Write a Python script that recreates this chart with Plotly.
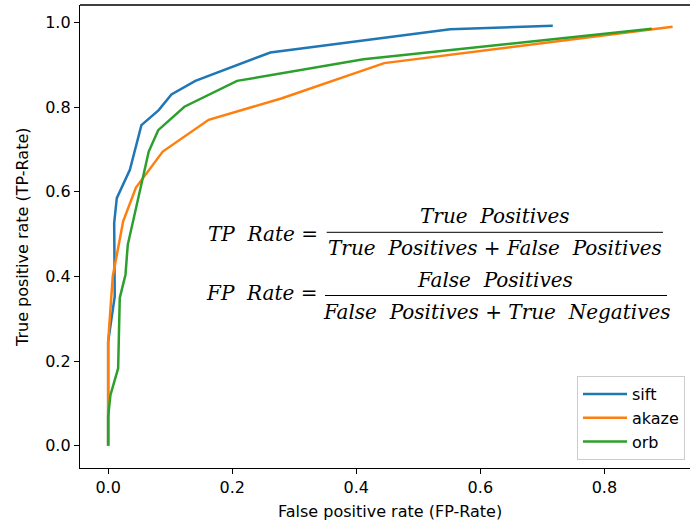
import plotly.graph_objects as go

# ---- data ----
sift_fpr = [0.0, 0.0, 0.0106, 0.0097, 0.0139, 0.035, 0.0536, 0.0815, 0.102, 0.1406, 0.2614, 0.5513, 0.7168]
sift_tpr = [0.0, 0.246, 0.3525, 0.526, 0.585, 0.652, 0.7575, 0.793, 0.830, 0.862, 0.929, 0.984, 0.992]

akaze_fpr = [0.0, 0.0, 0.0074, 0.0242, 0.0448, 0.088, 0.162, 0.279, 0.445, 0.910]
akaze_tpr = [0.0, 0.246, 0.40, 0.530, 0.610, 0.695, 0.770, 0.8205, 0.904, 0.990]

orb_fpr = [0.0, 0.0, 0.0037, 0.0161, 0.0187, 0.0279, 0.0316, 0.0654, 0.0807, 0.1229, 0.2078, 0.4117, 0.8763]
orb_tpr = [0.0, 0.069, 0.12, 0.183, 0.349, 0.404, 0.4746, 0.695, 0.7455, 0.801, 0.862, 0.913, 0.9853]

series_names = ["sift", "akaze", "orb"]
series_colors = ["#1f77b4", "#ff7f0e", "#2ca02c"]

x_ticks = [0.0, 0.2, 0.4, 0.6, 0.8]
y_ticks = [0.0, 0.2, 0.4, 0.6, 0.8, 1.0]

x_title = "False positive rate (FP-Rate)"
y_title = "True positive rate (TP-Rate)"

# ---- layout geometry ----
W, H = 690, 527
ML, MR, MT, MB = 80, 0, 5, 59
PW, PH = W - ML - MR, H - MT - MB


def px(x):
    return (x - ML) / PW


def py(y):
    return (H - MB - y) / PH


fig = go.Figure()
for name, color, xs, ys in zip(series_names, series_colors,
                               [sift_fpr, akaze_fpr, orb_fpr],
                               [sift_tpr, akaze_tpr, orb_tpr]):
    fig.add_trace(go.Scatter(x=xs, y=ys, mode="lines", name=name,
                             line=dict(color=color, width=2.5)))

tick_font = dict(family="DejaVu Sans", size=16, color="black")
fig.update_layout(
    width=W, height=H,
    margin=dict(l=ML, r=MR, t=MT, b=MB, autoexpand=False),
    plot_bgcolor="white", paper_bgcolor="white",
    showlegend=True,
    legend=dict(x=px(577), y=py(376), xanchor="left", yanchor="top",
                bgcolor="white", bordercolor="#cccccc", borderwidth=1,
                font=dict(family="DejaVu Sans", size=16, color="black"),
                tracegroupgap=0, itemwidth=44),
    xaxis=dict(range=[-0.0454, 0.938], tickvals=x_ticks,
               ticktext=[f"{v:.1f}" for v in x_ticks],
               showgrid=False, zeroline=False, showline=True,
               linecolor="black", linewidth=1.3, ticks="outside",
               ticklen=5, tickcolor="black", tickfont=tick_font,
               automargin=False),
    yaxis=dict(range=[-0.0527, 1.0413], tickvals=y_ticks,
               ticktext=[f"{v:.1f}" for v in y_ticks],
               showgrid=False, zeroline=False, showline=True,
               linecolor="black", linewidth=1.3, ticks="outside",
               ticklen=5, tickcolor="black", tickfont=tick_font,
               automargin=False),
)

# top spine
fig.add_shape(type="line", xref="paper", yref="paper", x0=0, x1=1, y0=1, y1=1,
              line=dict(color="black", width=1.3))

# axis titles
lab_font = dict(family="DejaVu Sans", size=16, color="black")
fig.add_annotation(text=x_title, xref="paper", yref="paper", x=px(390), y=py(511),
                   xanchor="center", yanchor="middle", showarrow=False, font=lab_font)
fig.add_annotation(text=y_title, xref="paper", yref="paper", x=px(22), y=py(237),
                   xanchor="center", yanchor="middle", showarrow=False, font=lab_font,
                   textangle=-90)

ffont = dict(family="DejaVu Serif", size=20, color="black")


def ann(text, x, y, xanchor="center"):
    fig.add_annotation(text=text, xref="paper", yref="paper", x=px(x), y=py(y),
                       xanchor=xanchor, yanchor="middle", showarrow=False,
                       font=ffont)


# TP rate formula
ann("<i>TP  Rate</i> =", 320, 234, "right")
ann("<i>True  Positives</i>", 494.8, 216.5)
fig.add_shape(type="line", xref="paper", yref="paper", x0=px(326.7), x1=px(663),
              y0=py(232.3), y1=py(232.3), line=dict(color="black", width=1))
ann("<i>True  Positives</i> + <i>False  Positives</i>", 495.3, 248.3)

# FP rate formula
ann("<i>FP  Rate</i> =", 320, 293, "right")
ann("<i>False  Positives</i>", 494.8, 279.5)
fig.add_shape(type="line", xref="paper", yref="paper", x0=px(325), x1=px(667),
              y0=py(295.5), y1=py(295.5), line=dict(color="black", width=1))
ann("<i>False  Positives</i> + <i>True  Negatives</i>", 497, 311.7)

fig.write_html("out.html", config={"displayModeBar": False},
               post_script="document.body.style.margin='0px';")
